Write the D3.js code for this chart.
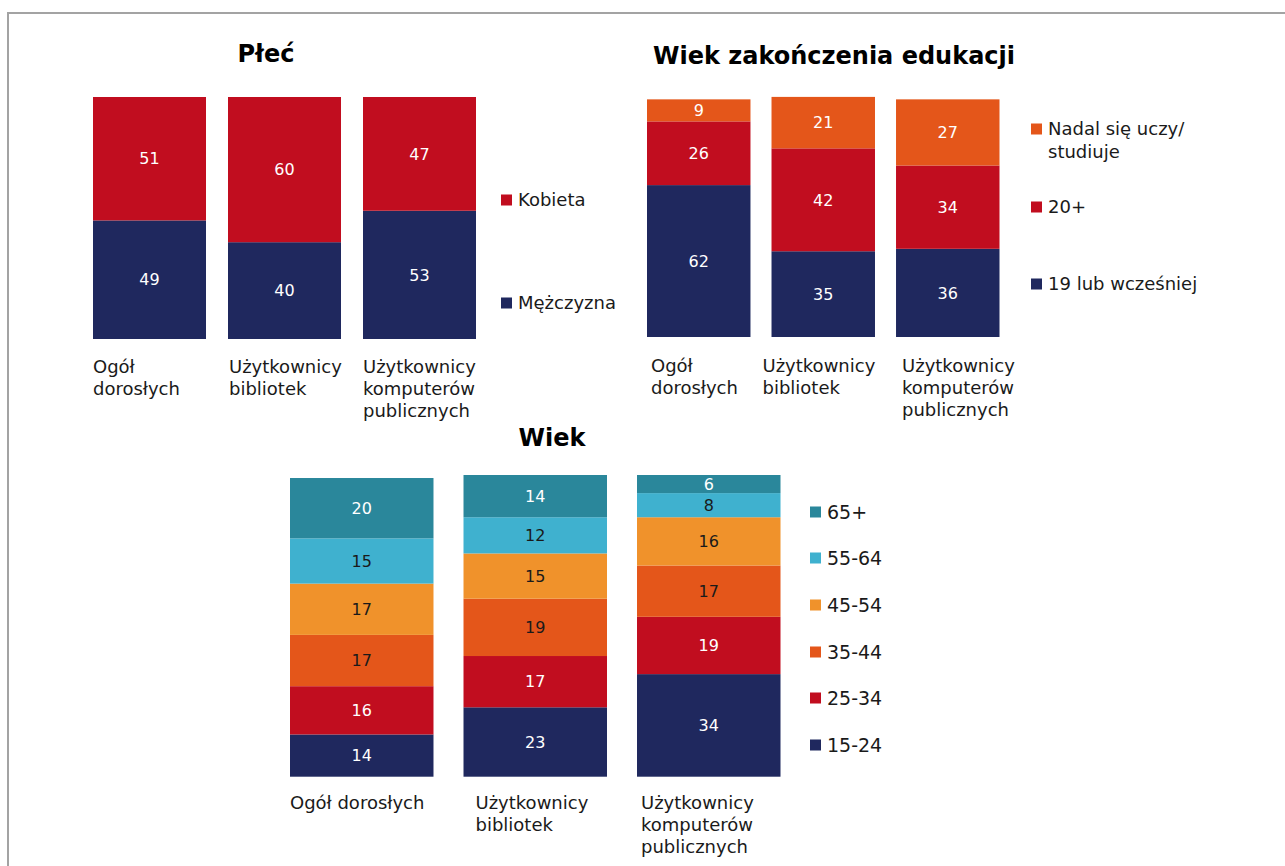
<!DOCTYPE html>
<html lang="pl">
<head>
<meta charset="utf-8">
<script src="https://cdn.jsdelivr.net/npm/d3@7"></script>
<style>
  html, body { margin: 0; padding: 0; background: #ffffff; }
  svg { display: block; font-family: "DejaVu Sans", Verdana, sans-serif; }
</style>
</head>
<body>
<script>
// ---- data ----
const groups = ["Ogół dorosłych", "Użytkownicy bibliotek", "Użytkownicy komputerów publicznych"];
const groupLinesTop = [["Ogół", "dorosłych"], ["Użytkownicy", "bibliotek"], ["Użytkownicy", "komputerów", "publicznych"]];
const groupLinesAge = [["Ogół dorosłych"], ["Użytkownicy", "bibliotek"], ["Użytkownicy", "komputerów", "publicznych"]];

// Płeć
const genderSeries = ["Mężczyzna", "Kobieta"];
const mezczyzna = [49, 40, 53];
const kobieta = [51, 60, 47];

// Wiek zakończenia edukacji
const eduSeries = ["19 lub wcześniej", "20+", "Nadal się uczy/ studiuje"];
const eduLegendLines = [["19 lub wcześniej"], ["20+"], ["Nadal się uczy/", "studiuje"]];
const edu19 = [62, 35, 36];
const edu20 = [26, 42, 34];
const eduNadal = [9, 21, 27];

// Wiek
const ageSeries = ["15-24", "25-34", "35-44", "45-54", "55-64", "65+"];
const age1524 = [14, 23, 34];
const age2534 = [16, 17, 19];
const age3544 = [17, 19, 17];
const age4554 = [17, 15, 16];
const age5564 = [15, 12, 8];
const age65 = [20, 14, 6];

// ---- palette ----
const NAVY = "#1f285e", RED = "#c10d1f", ORANGE = "#e4561a", AMBER = "#f0922b",
      SKY = "#3fb1cf", TEAL = "#2a879b";
const DARK_TEXT = "#1a1a1a";

const W = 1285, H = 866;
const svg = d3.select("body").append("svg").attr("width", W).attr("height", H);

// frame lines (top and left)
svg.append("line").attr("x1", 7).attr("x2", W).attr("y1", 13).attr("y2", 13)
  .attr("stroke", "#a3a3a3").attr("stroke-width", 2);
svg.append("line").attr("x1", 8).attr("x2", 8).attr("y1", 12).attr("y2", H)
  .attr("stroke", "#a3a3a3").attr("stroke-width", 2);

function drawChart(cfg) {
  const g = svg.append("g");
  const keys = cfg.series;
  const rows = groups.map((name, i) => {
    const r = { group: name };
    keys.forEach((k, j) => { r[k] = cfg.values[j][i]; });
    return r;
  });
  const stacked = d3.stack().keys(keys)(rows);

  const x = d3.scaleBand().domain(groups).range(cfg.xRange)
    .paddingInner(cfg.padInner).paddingOuter(0);
  const y = d3.scaleLinear().domain([0, 100]).range(cfg.yRange);
  const color = d3.scaleOrdinal().domain(keys).range(cfg.colors);

  // title
  g.append("text").attr("x", cfg.titleX).attr("y", cfg.titleY)
    .attr("text-anchor", "middle").attr("font-weight", "bold")
    .attr("font-size", 24).attr("fill", "#000").text(cfg.title);

  // stacked bars
  const layer = g.selectAll("g.layer").data(stacked).join("g").attr("class", "layer")
    .attr("fill", d => color(d.key));
  layer.selectAll("rect").data(d => d.map(p => Object.assign(p, { key: d.key })))
    .join("rect")
    .attr("x", d => x(d.data.group))
    .attr("width", x.bandwidth())
    .attr("y", d => y(d[1]))
    .attr("height", d => y(d[0]) - y(d[1]));

  // value labels
  layer.selectAll("text").data(d => d)
    .join("text")
    .attr("x", d => x(d.data.group) + x.bandwidth() / 2)
    .attr("y", d => (y(d[0]) + y(d[1])) / 2)
    .attr("dy", "0.36em")
    .attr("text-anchor", "middle")
    .attr("font-size", 16)
    .attr("fill", d => cfg.lightKeys.includes(d.key) ? DARK_TEXT : "#ffffff")
    .text(d => d[1] - d[0]);

  // category labels
  groups.forEach((name, i) => {
    const t = g.append("text")
      .attr("x", x(name) + cfg.labelDx[i])
      .attr("y", cfg.labelY)
      .attr("font-size", 18).attr("fill", DARK_TEXT);
    cfg.groupLines[i].forEach((line, k) => {
      t.append("tspan").attr("x", x(name) + cfg.labelDx[i])
        .attr("dy", k === 0 ? 0 : cfg.lineH).text(line);
    });
  });

  // legend
  const leg = g.append("g");
  cfg.legendOrder.forEach((k, idx) => {
    const cy = cfg.legendY[idx];
    leg.append("rect").attr("x", cfg.legendX).attr("y", cy - cfg.sq / 2)
      .attr("width", cfg.sq).attr("height", cfg.sq).attr("fill", color(k));
    const t = leg.append("text").attr("x", cfg.legendX + cfg.sq + 6)
      .attr("y", cy).attr("dy", "0.36em")
      .attr("font-size", cfg.legendFont).attr("fill", DARK_TEXT);
    const lines = cfg.legendLines ? cfg.legendLines[keys.indexOf(k)] : [k];
    lines.forEach((line, j) => {
      t.append("tspan").attr("x", cfg.legendX + cfg.sq + 6)
        .attr("dy", j === 0 ? "0.36em" : 23).text(line);
    });
    t.attr("dy", null);
  });
}

// Płeć
drawChart({
  title: "Płeć", titleX: 266, titleY: 62,
  series: genderSeries, values: [mezczyzna, kobieta], colors: [NAVY, RED], lightKeys: [],
  xRange: [93, 476], padInner: 0.163, yRange: [339, 97],
  groupLines: groupLinesTop, labelDx: [0, 1, 0], labelY: 373, lineH: 22,
  legendOrder: ["Kobieta", "Mężczyzna"], legendX: 501, legendY: [200, 303], sq: 11, legendFont: 18
});

// Wiek zakończenia edukacji
drawChart({
  title: "Wiek zakończenia edukacji", titleX: 834, titleY: 64,
  series: eduSeries, values: [edu19, edu20, eduNadal], colors: [NAVY, RED, ORANGE], lightKeys: [],
  xRange: [647, 999.5], padInner: 0.169, yRange: [337, 92],
  groupLines: groupLinesTop, labelDx: [4, -9, 6], labelY: 372, lineH: 22,
  legendOrder: [eduSeries[2], eduSeries[1], eduSeries[0]], legendLines: eduLegendLines,
  legendX: 1031, legendY: [129, 207, 284], sq: 11, legendFont: 18
});

// Wiek
drawChart({
  title: "Wiek", titleX: 552, titleY: 446,
  series: ageSeries, values: [age1524, age2534, age3544, age4554, age5564, age65],
  colors: [NAVY, RED, ORANGE, AMBER, SKY, TEAL], lightKeys: ["35-44", "45-54", "55-64"],
  xRange: [290, 780.5], padInner: 0.173, yRange: [776.7, 475],
  groupLines: groupLinesAge, labelDx: [0, 12, 4], labelY: 809, lineH: 22,
  legendOrder: ageSeries.slice().reverse(), legendX: 810,
  legendY: [512, 558, 605, 652, 698, 745], sq: 11, legendFont: 19
});
</script>
</body>
</html>
